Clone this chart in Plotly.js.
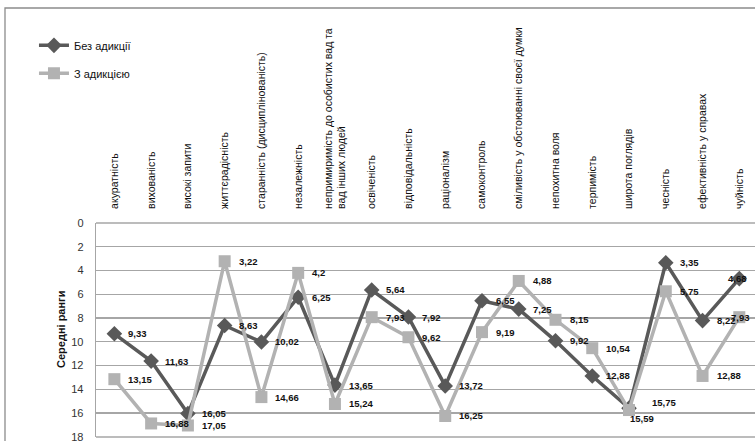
<!DOCTYPE html>
<html>
<head>
<meta charset="utf-8">
<script src="https://cdn.plot.ly/plotly-3.0.1.min.js"></script>
<style>
html,body{margin:0;padding:0;background:#fff;}
#chart{width:755px;height:441px;}
</style>
</head>
<body>
<div id="chart"></div>
<script>
var categories = [
  "акуратність",
  "вихованість",
  "високі запити",
  "життєрадісність",
  "старанність (дисциплінованість)",
  "незалежність",
  "непримиримість до особистих вад та<br>вад інших людей",
  "освіченість",
  "відповідальність",
  "раціоналізм",
  "самоконтроль",
  "сміливість у обстоюванні своєї думки",
  "непохитна воля",
  "терпимість",
  "широта поглядів",
  "чесність",
  "ефективність у справах",
  "чуйність"
];
var seriesNames = ["Без адикції", "З адикцією"];
var withoutAddiction = [9.33, 11.63, 16.05, 8.63, 10.02, 6.25, 13.65, 5.64, 7.92, 13.72, 6.55, 7.25, 9.92, 12.88, 15.59, 3.35, 8.22, 4.68];
var withAddiction    = [13.15, 16.88, 17.05, 3.22, 14.66, 4.2, 15.24, 7.93, 9.62, 16.25, 9.19, 4.88, 8.15, 10.54, 15.75, 5.75, 12.88, 7.93];
var yTicks = [0, 2, 4, 6, 8, 10, 12, 14, 16, 18];
var yTitle = "Середні ранги";

var darkColor = "#595959";
var lightColor = "#b2b2b2";

var idx = categories.map(function(_, i){ return i; });

var traces = [
  {
    x: idx, y: withoutAddiction, name: seriesNames[0], type: "scatter", mode: "lines+markers",
    line: {color: darkColor, width: 3.5},
    marker: {symbol: "diamond", size: 12, color: darkColor},
    legendgroup: "a", cliponaxis: false
  },
  {
    x: idx, y: withAddiction, name: seriesNames[1], type: "scatter", mode: "lines+markers",
    line: {color: lightColor, width: 3.5},
    marker: {symbol: "square", size: 12, color: lightColor},
    legendgroup: "b", cliponaxis: false
  }
];

function fmt(v){ return String(v).replace(".", ","); }

// label offsets per point (style only)
var shiftA = idx.map(function(){ return {x: 12, y: 0}; });
var shiftB = idx.map(function(){ return {x: 12, y: 0}; });
shiftA[14] = {x: -1, y: -10};
shiftB[14] = {x: 21, y: 8};
shiftA[17] = {x: -13, y: 0};
shiftB[17] = {x: -10, y: 0};

var lblFont = {family: "Liberation Sans", size: 9.5, color: "#111", weight: "bold"};
var annotations = [];
idx.forEach(function(i){
  annotations.push({x: i, y: withoutAddiction[i], xref: "x", yref: "y", text: fmt(withoutAddiction[i]),
    showarrow: false, xanchor: "left", yanchor: "middle", xshift: shiftA[i].x, yshift: shiftA[i].y,
    font: lblFont});
  annotations.push({x: i, y: withAddiction[i], xref: "x", yref: "y", text: fmt(withAddiction[i]),
    showarrow: false, xanchor: "left", yanchor: "middle", xshift: shiftB[i].x, yshift: shiftB[i].y,
    font: lblFont});
});

var plotL = 96, plotT = 223, plotB = 4;
var plotW = 755 - plotL;
var plotH = 441 - plotT - plotB;
var catW = 36.76;

annotations.push({
  xref: "paper", yref: "paper", x: (61 - plotL) / plotW, y: (441 - plotB - 330) / plotH,
  text: "<b>" + yTitle + "</b>", textangle: -90, showarrow: false,
  xanchor: "center", yanchor: "middle",
  font: {family: "Liberation Sans", size: 11, color: "#111"}
});

var layout = {
  width: 755, height: 441,
  margin: {l: plotL, r: 0, t: plotT, b: plotB, pad: 0, autoexpand: false},
  paper_bgcolor: "#fff", plot_bgcolor: "#fff",
  font: {family: "Liberation Sans", color: "#222"},
  showlegend: true,
  legend: {
    xref: "container", yref: "container", x: 0.045, y: 0.93, xanchor: "left", yanchor: "top",
    traceorder: "grouped", tracegroupgap: 9,
    font: {family: "Liberation Sans", size: 11, color: "#111"},
    bgcolor: "rgba(0,0,0,0)", itemwidth: 30
  },
  xaxis: {
    side: "top", type: "linear", automargin: false,
    tickmode: "array", tickvals: idx, ticktext: categories,
    tickangle: -90, range: [-0.5, -0.5 + plotW / catW],
    ticks: "outside", ticklen: 11, tickcolor: "rgba(0,0,0,0)",
    tickfont: {family: "Liberation Sans", size: 10.5, color: "#111"},
    ticklabeloverflow: "allow",
    showgrid: false, zeroline: false,
    showline: false
  },
  yaxis: {
    range: [18.02, 0], tickmode: "array", tickvals: yTicks, automargin: false,
    ticks: "outside", ticklen: 9, tickcolor: "rgba(0,0,0,0)",
    tickfont: {family: "Liberation Sans", size: 11, color: "#333"},
    ticklabeloverflow: "allow",
    showgrid: true, gridcolor: "#a6a6a6", gridwidth: 1.3,
    zeroline: false, showline: true, linecolor: "#a6a6a6", linewidth: 1.3
  },
  annotations: annotations,
  shapes: [
    {type: "rect", xref: "paper", yref: "paper",
     x0: (5 - plotL) / plotW, x1: 1.2, y0: -0.5, y1: (441 - plotB - 8) / plotH,
     line: {color: "#8c8c8c", width: 1.3}, fillcolor: "rgba(0,0,0,0)", layer: "below"},
    {type: "line", xref: "paper", yref: "paper", x0: 0, x1: 1, y0: 1, y1: 1,
     line: {color: "#a6a6a6", width: 1.3}, layer: "below"},
    {type: "line", xref: "paper", yref: "paper", x0: 0, x1: 1, y0: 0, y1: 0,
     line: {color: "#a6a6a6", width: 1.3}, layer: "below"}
  ]
};

Plotly.newPlot("chart", traces, layout, {displayModeBar: false, staticPlot: true});
</script>
</body>
</html>
